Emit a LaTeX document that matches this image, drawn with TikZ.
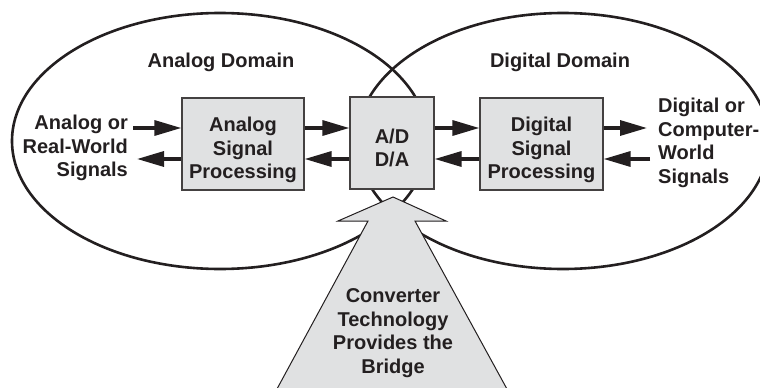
\documentclass[tikz,border=0pt]{standalone}
\usepackage{fontspec}
\setmainfont{Liberation Sans}
\usetikzlibrary{shapes.geometric,arrows.meta}
\definecolor{ink}{RGB}{35,31,32}
\definecolor{boxgray}{RGB}{224,225,226}
\begin{document}
\begin{tikzpicture}[x=1pt,y=-1pt,
  font=\bfseries\fontsize{20}{23.5}\selectfont,
  domainell/.style={ellipse, draw=ink, line width=2.6pt, inner sep=0pt},
  procbox/.style={rectangle, draw=ink!85, line width=1.2pt, fill=boxgray, inner sep=0pt, minimum height=92pt},
  txt/.style={text=ink, align=center, inner sep=0pt},
  sig/.style={draw=ink, line width=3.3pt, -{Triangle[length=27pt,width=15pt]}},
  bigarrow/.style={draw=ink, fill=boxgray, line width=1pt, line join=miter}]
\useasboundingbox (0,0) rectangle (760,388);
\clip (0,0) rectangle (760,388);
% domains
\node[domainell, minimum width=416pt, minimum height=256pt] (adom) at (220,141) {};
\node[domainell, minimum width=412pt, minimum height=256pt] (ddom) at (563,141) {};
% boxes
\node[procbox, minimum width=122pt] (asp) at (243,144) {};
\node[procbox, minimum width=84pt] (ad) at (392,143) {};
\node[procbox, minimum width=123pt] (dsp) at (541.5,144) {};
\node[txt] (asptxt) at (243,150) {Analog\\Signal\\Processing};
\node[txt] (adtxt) at (392,148) {A/D\\D/A};
\node[txt] (dsptxt) at (541.5,150) {Digital\\Signal\\Processing};
% rows
\coordinate (yu) at (0,128);
\coordinate (yl) at (0,159);
\coordinate (inL) at (133,128);
\coordinate (outL) at (137,159);
\coordinate (outR) at (647,128);
\coordinate (inR) at (650,159);
\draw[sig] (inL) -- (asp.west |- yu);
\draw[sig] (asp.west |- yl) -- (outL);
\draw[sig] (asp.east |- yu) -- (ad.west |- yu);
\draw[sig] (ad.west |- yl) -- (asp.east |- yl);
\draw[sig] (ad.east |- yu) -- (dsp.west |- yu);
\draw[sig] (dsp.west |- yl) -- (ad.east |- yl);
\draw[sig] (dsp.east |- yu) -- (outR);
\draw[sig] (inR) -- (dsp.east |- yl);
% labels
\node[txt, anchor=base] (alab) at (221,67) {Analog Domain};
\node[txt, anchor=base] (dlab) at (560,67) {Digital Domain};
\node[txt, align=right, anchor=east] (lsig) at (128,148) {Analog or\\Real-World\\Signals};
\node[txt, align=left, anchor=west] (rsig) at (658,143) {Digital or\\Computer-\\World\\Signals};
% bridge arrow
\draw[bigarrow] (393,197) -- (446,221) -- (415,221) -- (513,400) -- (271,400) -- (368,221) -- (338,221) -- cycle;
\node[txt] (bridge) at (393,333) {Converter\\Technology\\Provides the\\Bridge};
\end{tikzpicture}
\end{document}
